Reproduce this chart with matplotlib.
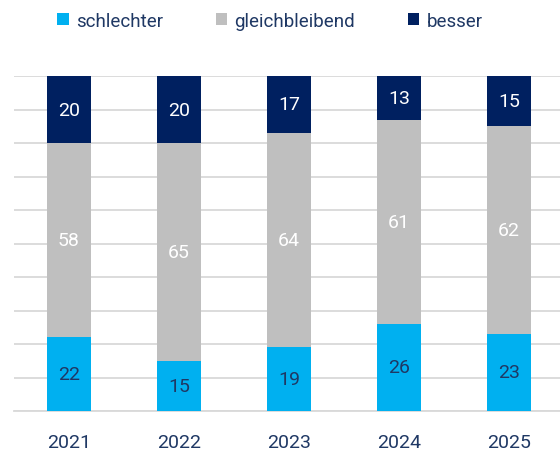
import matplotlib
matplotlib.use("Agg")
import matplotlib.pyplot as plt
from matplotlib.patches import Patch
import numpy as np

years = ["2021", "2022", "2023", "2024", "2025"]
schlechter = [22, 15, 19, 26, 23]
gleichbleibend = [58, 65, 64, 61, 62]
besser = [20, 20, 17, 13, 15]
series_names = ["schlechter", "gleichbleibend", "besser"]
colors = ["#00B0F0", "#BFBFBF", "#002060"]
label_colors = ["#1F3864", "white", "white"]
text_color = "#1F3864"

plt.rcParams['font.family'] = ['Roboto', 'DejaVu Sans']

fig = plt.figure(figsize=(5.6, 4.56), dpi=100)
ax = fig.add_axes([14/560, 44/456, 550/560, 335/456])

x = np.arange(len(years))
bottoms = np.zeros(len(years))
for vals, col, lc in zip([schlechter, gleichbleibend, besser], colors, label_colors):
    vals = np.array(vals, dtype=float)
    ax.bar(x, vals, bottom=bottoms, width=0.4, color=col, zorder=3)
    for xi, b, v in zip(x, bottoms, vals):
        ax.text(xi, b + v / 2, f"{int(v)}", ha="center", va="center",
                color=lc, fontsize=14, zorder=4)
    bottoms += vals

ax.set_xlim(-0.5, len(years) - 0.5)
ax.set_ylim(0, 100)
ax.set_yticks(np.arange(0, 101, 10))
ax.yaxis.grid(True, color="#D9D9D9", linewidth=1.3, zorder=0)
ax.set_axisbelow(True)
ax.tick_params(axis="y", left=False, labelleft=False)
ax.tick_params(axis="x", bottom=False, labelsize=14, labelcolor=text_color, pad=12)
ax.set_xticks(x)
ax.set_xticklabels(years)
for s in ["top", "right", "left"]:
    ax.spines[s].set_visible(False)
ax.spines["bottom"].set_color("#D9D9D9")
ax.spines["bottom"].set_linewidth(1.3)

handles = [Patch(facecolor=c, edgecolor="none") for c in colors]
leg = fig.legend(handles, series_names, loc="center", bbox_to_anchor=(270/560, 1 - 22/456),
                 ncol=3, frameon=False, prop={"size": 13.5},
                 handlelength=0.6, handleheight=0.6,
                 handletextpad=0.4, columnspacing=2.8, labelcolor=text_color)

fig.savefig("out.png", dpi=100)
